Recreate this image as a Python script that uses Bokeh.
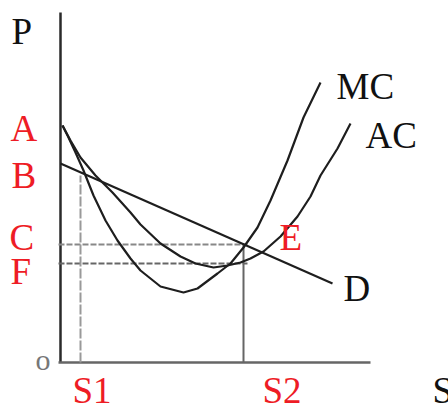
from bokeh.plotting import figure
from bokeh.models import Range1d
from bokeh.core.properties import value
from bokeh.embed import file_html
from bokeh.resources import INLINE

# Marginal cost curve
mc_x = [2, 8, 15, 23, 33, 45, 57, 70, 80, 100, 123, 137, 157, 170, 183, 197, 210, 227, 243, 260]
mc_y = [237, 225, 210, 192, 167, 142, 122, 104, 92, 76, 70, 74, 89, 99, 115, 135, 162, 202, 245, 280]

# Average cost curve
ac_x = [2, 10, 20, 35, 52, 70, 80, 100, 120, 135, 153, 167, 180, 190, 203, 220, 237, 250, 260, 277, 290]
ac_y = [237, 222, 205, 187, 170, 150, 138, 119, 106, 99, 95, 97, 100, 104, 111, 126, 146, 166, 187, 214, 239]

# Demand line
d_x = [0, 272]
d_y = [199, 79]

# Price levels C and F, quantities S1 and S2
price_c = 118
price_f = 99
q_s1 = 20
q_s1_top = 187
q_s2 = 183

# Axis extents
y_axis_top = 350
x_axis_end = 310

# Labels
red_labels = ["A", "B", "C", "F", "E", "S1", "S2"]
red_x = [-50, -49, -51, -50, 219, 12, 202]
red_y = [234, 187, 125, 91, 125, -28, -28]

black_labels = ["P", "MC", "AC", "D", "S"]
black_x = [-49, 276, 305, 283, 372]
black_y = [331, 276, 227, 74, -28]

p = figure(width=448, height=408,
           x_range=Range1d(-60, 388), y_range=Range1d(-46, 362),
           output_backend="svg", toolbar_location=None,
           min_border=0, outline_line_color=None,
           x_axis_type=None, y_axis_type=None)
p.background_fill_color = "white"
p.border_fill_color = "white"

# axes
p.segment(x0=[0], y0=[0], x1=[0], y1=[y_axis_top], line_color="#2a2a2a", line_width=2.5)
p.segment(x0=[-2], y0=[0], x1=[x_axis_end], y1=[0], line_color="#666666", line_width=2.5)

# guide lines
p.segment(x0=[-2], y0=[price_c], x1=[q_s2 + 4], y1=[price_c], line_color="#888888", line_width=2, line_dash="6 2")
p.segment(x0=[-2], y0=[price_f], x1=[q_s2 + 4], y1=[price_f], line_color="#666666", line_width=2, line_dash="6 2")
p.segment(x0=[q_s1], y0=[0], x1=[q_s1], y1=[q_s1_top], line_color="#999999", line_width=2, line_dash="10 2")
p.segment(x0=[q_s2], y0=[0], x1=[q_s2], y1=[price_c], line_color="#666666", line_width=2)

# curves
p.line(mc_x, mc_y, line_color="#1e1e1e", line_width=2.2)
p.line(ac_x, ac_y, line_color="#1e1e1e", line_width=2.2)
p.line(d_x, d_y, line_color="#1e1e1e", line_width=2.2)

font = value("Liberation Serif")
p.text(x=red_x, y=red_y, text=red_labels, text_font=font, text_font_size="37px",
       text_color="#ee1c25", text_baseline="alphabetic", text_align="left")
p.text(x=black_x, y=black_y, text=black_labels, text_font=font, text_font_size="37px",
       text_color="#111111", text_baseline="alphabetic", text_align="left")
p.text(x=[-25], y=[3], text=["o"], text_font=font, text_font_size="30px",
       text_color="#777777", text_baseline="alphabetic", text_align="left")

open("out.html", "w").write(file_html(p, INLINE))
